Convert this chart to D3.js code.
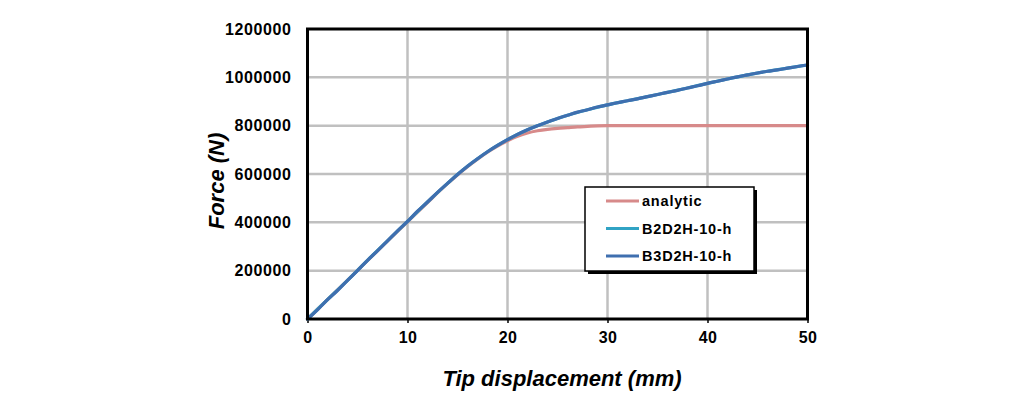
<!DOCTYPE html>
<html><head><meta charset="utf-8">
<script src="https://cdn.jsdelivr.net/npm/d3@7"></script>
<style>
html,body{margin:0;padding:0;background:#fff;}
text{font-family:Arial,"Liberation Sans",sans-serif;}
</style></head>
<body>
<svg id="c" width="1020" height="398"></svg>
<script>
const seriesNames = ["analytic", "B2D2H-10-h", "B3D2H-10-h"];
const seriesColors = ["#d78a8a", "#31a3c4", "#3f6faf"];
const xTicks = [0, 10, 20, 30, 40, 50];
const yTicks = [0, 200000, 400000, 600000, 800000, 1000000, 1200000];
const dispAnalytic = [0, 2, 4, 6, 8, 10, 12, 14, 15, 16, 17, 18, 19, 20, 21, 22, 23, 24, 25, 26, 27, 28, 29, 30, 35, 40, 45, 50];
const forceAnalytic = [0, 80000, 160000, 242000, 322000, 402000, 482000, 560000, 596000, 630000, 661000, 690000, 715000, 737000, 756000, 770000, 779000, 785000, 789000, 792000, 795000, 797000, 799000, 800000, 800000, 800000, 800000, 800000];
const dispB2 = [0, 2, 4, 6, 8, 10, 12, 14, 15, 16, 17, 18, 19, 20, 22, 24, 26, 28, 30, 32, 34, 36, 38, 40, 42, 44, 46, 48, 50];
const forceB2 = [0, 80000, 160000, 243000, 323000, 404000, 484000, 561000, 598000, 632000, 663000, 692000, 718000, 742000, 783000, 815000, 843000, 866000, 886000, 903000, 920000, 938000, 956000, 975000, 993000, 1010000, 1025000, 1038000, 1051000];
const dispB3 = [0, 1, 2, 3, 4, 5, 6, 7, 8, 9, 10, 11, 12, 13, 14, 15, 16, 17, 18, 19, 20, 21, 22, 23, 24, 25, 26, 27, 28, 29, 30, 31, 32, 33, 34, 35, 36, 37, 38, 39, 40, 41, 42, 43, 44, 45, 46, 47, 48, 49, 50];
const forceB3 = [0, 38000, 80000, 118000, 160000, 200000, 243000, 282000, 323000, 365000, 404000, 446000, 484000, 524000, 561000, 598000, 632000, 663000, 692000, 718000, 742000, 764000, 783000, 800000, 815000, 830000, 843000, 856000, 866000, 877000, 886000, 895000, 903000, 911000, 920000, 929000, 938000, 946000, 956000, 965000, 975000, 984000, 993000, 1002000, 1010000, 1018000, 1025000, 1031000, 1038000, 1045000, 1051000];

const svg = d3.select("#c");
const L = 307.5, R = 807.5, T = 29, B = 319;
const x = d3.scaleLinear().domain([0, 50]).range([L, R]);
const y = d3.scaleLinear().domain([0, 1200000]).range([B, T]);

// grid
const g = svg.append("g");
g.selectAll(".vx").data(xTicks.slice(1, -1)).enter().append("line")
  .attr("x1", d => x(d)).attr("x2", d => x(d)).attr("y1", T).attr("y2", B)
  .attr("stroke", "#c0c0c0").attr("stroke-width", 2.5);
g.selectAll(".hy").data(yTicks.slice(1, -1)).enter().append("line")
  .attr("y1", d => y(d)).attr("y2", d => y(d)).attr("x1", L).attr("x2", R)
  .attr("stroke", "#c0c0c0").attr("stroke-width", 2.5);

// axes (labels)
const xAxis = d3.axisBottom(x).tickValues(xTicks).tickSize(4).tickPadding(9).tickFormat(d3.format("d"));
const xa = svg.append("g").attr("transform", `translate(0,${B})`).call(xAxis);
xa.select(".domain").remove();
xa.selectAll("line").attr("stroke", "#000").attr("stroke-width", 1.5);
xa.selectAll("text").attr("font-size", "16px").attr("font-weight", "bold").attr("fill", "#000")
  .attr("letter-spacing", "0.4px")
  .attr("font-family", "Arial, 'Liberation Sans', sans-serif");

const yAxis = d3.axisLeft(y).tickValues(yTicks).tickSize(0).tickPadding(16).tickFormat(d3.format("d"));
const ya = svg.append("g").attr("transform", `translate(${L},0)`).call(yAxis);
ya.select(".domain").remove();
ya.selectAll("text").attr("font-size", "16px").attr("font-weight", "bold").attr("fill", "#000")
  .attr("letter-spacing", "0.6px")
  .attr("font-family", "Arial, 'Liberation Sans', sans-serif");

// lines
const line = d3.line().curve(d3.curveMonotoneX).x(d => x(d[0])).y(d => y(d[1]));
const datasets = [
  d3.zip(dispAnalytic, forceAnalytic),
  d3.zip(dispB2, forceB2),
  d3.zip(dispB3, forceB3)
];
datasets.forEach((ds, i) => {
  svg.append("path").datum(ds).attr("d", line).attr("fill", "none")
    .attr("stroke", seriesColors[i]).attr("stroke-width", 3.2)
    .attr("stroke-linejoin", "round").attr("stroke-linecap", "round");
});

// frame
svg.append("rect").attr("x", L).attr("y", T).attr("width", R - L).attr("height", B - T)
  .attr("fill", "none").attr("stroke", "#000").attr("stroke-width", 3);

// titles
svg.append("text").attr("x", 562).attr("y", 386).attr("text-anchor", "middle")
  .attr("font-size", "22px").attr("font-weight", "bold").attr("font-style", "italic")
  .text("Tip displacement (mm)");
svg.append("text").attr("transform", "translate(224,181) rotate(-90)").attr("text-anchor", "middle")
  .attr("font-size", "22px").attr("font-weight", "bold").attr("font-style", "italic")
  .text("Force (N)");

// legend
const lg = svg.append("g");
const lx = 585, ly = 187, lw = 169, lh = 84;
lg.append("rect").attr("x", lx + 3).attr("y", ly + 3).attr("width", lw).attr("height", lh).attr("fill", "#000");
lg.append("rect").attr("x", lx).attr("y", ly).attr("width", lw).attr("height", lh)
  .attr("fill", "#fff").attr("stroke", "#000").attr("stroke-width", 1.5);
seriesNames.forEach((n, i) => {
  const cy = 201 + i * 27.5;
  lg.append("line").attr("x1", 606).attr("x2", 639).attr("y1", cy).attr("y2", cy)
    .attr("stroke", seriesColors[i]).attr("stroke-width", 3.2);
  lg.append("text").attr("x", 642).attr("y", cy + 5).attr("font-size", "14.5px").attr("font-weight", "bold")
    .attr("letter-spacing", "0.8px").text(n);
});
</script>
</body></html>
